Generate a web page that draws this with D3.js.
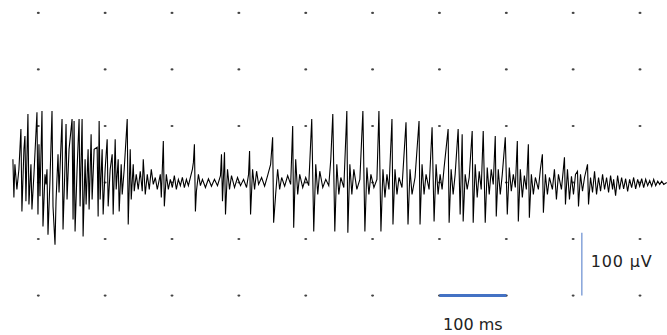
<!DOCTYPE html>
<html>
<head>
<meta charset="utf-8">
<script src="https://cdn.jsdelivr.net/npm/d3@7"></script>
<style>
  html, body { margin: 0; padding: 0; background: #fff; }
  svg { display: block; font-family: "DejaVu Sans", Verdana, sans-serif; }
</style>
</head>
<body>
<svg id="chart" width="667" height="335"></svg>
<script>
// grid positions (ms / µV)
const gridMs = [100, 200, 300, 400, 500, 600, 700, 800, 900, 1000];
const gridUv = [-180, -90, 0, 90, 180, 270];

// scale bars
const barMs = [700, 800];
const barUv = [-180, -80];
const barUvAtMs = 913;
const labelMs = "100 ms";
const labelUv = "100 µV";

const trace = [
  [62,37],[63.5,-24],[65,29],[68,-11],[71,21],[74,85],[75.5,-46],[78.5,53],[80,74],[81.5,-30],
  [84.5,109],[86,-35],[89,29],[90.5,-43],[93.5,13],[98,112],[99.5,-51],[101,61],[102.5,-22],[105.5,114],
  [107,-70],[110,13],[111.5,-3],[113,21],[114.5,-83],[117.5,5],[120.5,114],[122,-38],[125,-99],[126.5,-30],
  [129.5,45],[131,-16],[135.5,101],[137,-75],[140,29],[141.5,93],[143,-27],[146,53],[150.5,101],[152,-59],
  [153.5,98],[155,-78],[158,21],[161,101],[162.5,-38],[165.5,101],[167,-86],[170,37],[171.5,-35],[174.5,53],
  [176,-43],[179,77],[180.5,-27],[183.5,53],[188,56],[189.5,-54],[191,98],[192.5,-27],[195.5,53],[197,-51],
  [200,21],[203,69],[204.5,-38],[207.5,21],[210.5,45],[212,-51],[215,69],[216.5,-11],[219.5,37],[221,-46],
  [224,29],[225.5,-19],[228.5,21],[233,101],[234.5,-67],[237.5,53],[239,-27],[242,29],[243.5,-14],[246.5,13],
  [249.5,-11],[252.5,18],[255.5,-14],[257,37],[260,-19],[263,13],[266,-11],[269,21],[272,-3],[275,8],
  [278,-11],[282.5,13],[284,-24],[287,66],[288.5,-38],[291.5,13],[294.5,-11],[297.5,5],[300.5,-8],[303.5,11],
  [306.5,-11],[309.5,5],[312.5,-5],[315.5,8],[318.5,-8],[321.5,5],[324.5,-5],[327.5,8],[330.5,21],[332,32],
  [333.5,61],[335,-46],[336.5,-14],[339.5,13],[342.5,-5],[345.5,5],[350,-8],[354.5,6],[359,-6],[363.5,5],
  [368,-5],[372.5,11],[374,45],[375.5,-30],[378.5,48],[380,-51],[383,21],[386,-11],[389,11],[393.5,-8],
  [398,8],[402.5,-5],[407,5],[411.5,-8],[414.5,13],[416,50],[417.5,-51],[420.5,21],[423.5,-11],[426.5,18],
  [429.5,-3],[434,8],[438.5,-6],[443,11],[447.5,29],[450.5,72],[452,-64],[455,-19],[458,21],[461,-11],
  [464,8],[468.5,-6],[473,11],[477.5,-3],[480.5,90],[482,-72],[485,37],[488,-19],[491,13],[495.5,-8],
  [500,8],[504.5,-5],[509,101],[512,-78],[515,29],[518,-19],[521,18],[525.5,-8],[530,5],[534.5,-5],
  [537.5,37],[540.5,109],[543.5,-78],[546.5,29],[549.5,-19],[552.5,8],[557,-8],[561.5,114],[563,-80],[566,29],
  [569,-19],[572,21],[576.5,-11],[581,5],[585.5,114],[588.5,-78],[591.5,24],[594.5,-19],[597.5,13],[602,-8],
  [606.5,5],[609.5,114],[612.5,-78],[615.5,21],[618.5,-24],[621.5,13],[624.5,-11],[629,101],[630.5,-67],[633.5,21],
  [636.5,-19],[639.5,8],[644,-8],[650,96],[653,-67],[656,21],[659,-19],[663.5,8],[669.5,98],[671,-67],
  [674,29],[677,-19],[680,13],[684.5,-11],[689,88],[692,-62],[695,29],[698,-19],[701,13],[704,-11],
  [707,24],[713,85],[714.5,-64],[717.5,21],[720.5,-19],[723.5,13],[728,85],[731,-51],[734,77],[735.5,-62],
  [738.5,13],[741.5,-11],[744.5,8],[749,82],[750.5,-64],[753.5,29],[756.5,-24],[759.5,18],[762.5,-11],[765.5,82],
  [768.5,-64],[771.5,24],[774.5,-19],[777.5,21],[780.5,-3],[783.5,74],[785,-54],[788,21],[791,-19],[794,13],
  [798.5,72],[801.5,-51],[804.5,24],[807.5,-14],[810.5,13],[813.5,-8],[816.5,66],[818,-62],[821,21],[824,-24],
  [827,11],[830,-11],[833,61],[834.5,-56],[837.5,13],[840.5,-19],[843.5,8],[848,-11],[851,21],[854,45],
  [855.5,-48],[858.5,13],[861.5,-19],[864.5,8],[869,-11],[872,21],[875,-27],[878,13],[882.5,-11],[887,40],
  [888.5,-35],[891.5,21],[894.5,-27],[897.5,10],[900.5,-19],[903.5,13],[906.5,18],[908,-38],[911,13],[914,-14],
  [917,8],[921.5,29],[923,-35],[926,8],[929,-16],[932,18],[935,-19],[938,8],[941,-14],[944,13],
  [947,-11],[950,8],[953,-16],[956,11],[959,-11],[960.5,5],[963.5,-21],[966.5,11],[969.5,-11],[972.5,8],
  [975.5,-10],[978.5,6],[981.5,-14],[984.5,5],[987.5,-8],[990.5,8],[993.5,-10],[996.5,5],[999.5,-6],[1002.5,6],
  [1005.5,-8],[1008.5,5],[1011.5,-5],[1014.5,3],[1017.5,-6],[1020.5,5],[1023.5,-5],[1026.5,2],[1029.5,-3],[1032.5,2],
  [1035.5,-3],[1040,0]
];

const svg = d3.select("#chart");

const x = d3.scaleLinear().domain([100, 1000]).range([38.3, 640]);
const y = d3.scaleLinear().domain([0, 100]).range([182.5, 119.7]);

// dotted grid
const dots = [];
gridUv.forEach(v => gridMs.forEach(t => dots.push([t, v])));
svg.append("g")
  .selectAll("ellipse")
  .data(dots)
  .join("ellipse")
  .attr("cx", d => x(d[0]))
  .attr("cy", d => y(d[1]))
  .attr("rx", 1.5)
  .attr("ry", 1.1)
  .attr("fill", "#444");

// trace
const line = d3.line()
  .x(d => x(d[0]))
  .y(d => y(d[1]));

svg.append("path")
  .datum(trace)
  .attr("fill", "none")
  .attr("stroke", "#000")
  .attr("stroke-width", 1.1)
  .attr("stroke-linejoin", "miter")
  .attr("d", line);

// time scale bar
svg.append("line")
  .attr("x1", x(barMs[0]))
  .attr("x2", x(barMs[1]))
  .attr("y1", y(barUv[0]))
  .attr("y2", y(barUv[0]))
  .attr("stroke", "#4472c4")
  .attr("stroke-width", 3);

svg.append("text")
  .attr("x", (x(barMs[0]) + x(barMs[1])) / 2)
  .attr("y", 330)
  .attr("text-anchor", "middle")
  .attr("font-size", 16)
  .attr("fill", "#222")
  .text(labelMs);

// amplitude scale bar
svg.append("line")
  .attr("x1", x(barUvAtMs))
  .attr("x2", x(barUvAtMs))
  .attr("y1", y(barUv[0]))
  .attr("y2", y(barUv[1]))
  .attr("stroke", "#4472c4")
  .attr("stroke-opacity", 0.75)
  .attr("stroke-width", 1.3);

svg.append("text")
  .attr("x", x(barUvAtMs) + 9)
  .attr("y", 267)
  .attr("font-size", 16)
  .attr("font-stretch", "expanded")
  .attr("letter-spacing", 0.8)
  .attr("fill", "#222")
  .text(labelUv);
</script>
</body>
</html>
